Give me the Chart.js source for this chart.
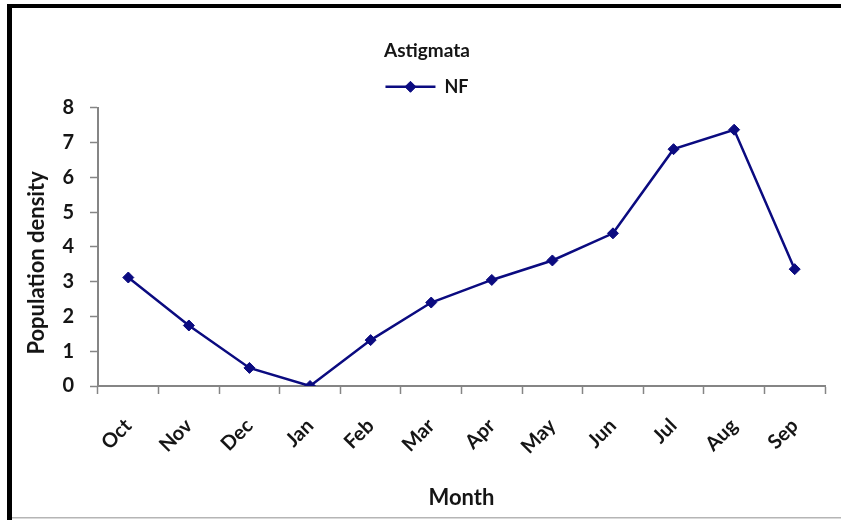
<!DOCTYPE html>
<html>
<head>
<meta charset="utf-8">
<title>Astigmata</title>
<script src="https://cdn.jsdelivr.net/npm/chart.js@4/dist/chart.umd.min.js"></script>
<style>
  html, body { margin: 0; padding: 0; background: #ffffff; }
  #wrap { width: 841px; height: 520px; position: relative; }
</style>
</head>
<body>
<div id="wrap"><canvas id="chart" width="841" height="520"></canvas></div>
<script>
// Monthly population density of Astigmata (NF)
const months = ['Oct', 'Nov', 'Dec', 'Jan', 'Feb', 'Mar', 'Apr', 'May', 'Jun', 'Jul', 'Aug', 'Sep'];
const nfDensity = [3.12, 1.74, 0.52, 0, 1.32, 2.40, 3.05, 3.61, 4.39, 6.81, 7.37, 3.36];
const yTickValues = [0, 1, 2, 3, 4, 5, 6, 7, 8];

const seriesName = 'NF';
const chartTitle = 'Astigmata';
const xTitle = 'Month';
// trailing spaces nudge the rotated title slightly toward the bottom of the axis
const yTitle = 'Population density      ';

const navy = '#0b0b80';
const axisGrey = '#858585';
const textColor = '#151515';
const fontFamily = 'Lato, "Open Sans", "Liberation Sans", sans-serif';

// White background plus the black frame on the left and top edges, grey rule at the bottom
const framePlugin = {
  id: 'frame',
  beforeDraw(chart) {
    const ctx = chart.ctx;
    ctx.save();
    ctx.fillStyle = '#ffffff';
    ctx.fillRect(0, 0, chart.width, chart.height);
    ctx.fillStyle = '#000000';
    ctx.fillRect(7, 4, chart.width - 7, 4);
    ctx.fillRect(7, 4, 5, chart.height - 4);
    ctx.fillStyle = '#b5b5b5';
    ctx.fillRect(12, 517, chart.width - 12, 1.5);
    ctx.restore();
  }
};

// Legend swatch: a line with a diamond marker in the middle
const legendMarkerPlugin = {
  id: 'legendMarker',
  afterDraw(chart) {
    const legend = chart.legend;
    if (!legend || !legend.legendHitBoxes) return;
    const ctx = chart.ctx;
    const boxW = legend.options.labels.boxWidth;
    legend.legendHitBoxes.forEach((hb) => {
      const cy = hb.top + hb.height / 2;
      ctx.save();
      ctx.strokeStyle = navy;
      ctx.lineWidth = 2.5;
      ctx.beginPath();
      ctx.moveTo(hb.left, cy);
      ctx.lineTo(hb.left + boxW, cy);
      ctx.stroke();
      ctx.fillStyle = navy;
      ctx.strokeStyle = navy;
      ctx.lineWidth = 1;
      Chart.helpers.drawPoint(ctx, { pointStyle: 'rectRot', radius: 5.5, borderWidth: 1, rotation: 0 }, hb.left + boxW / 2, cy);
      ctx.restore();
    });
  }
};

new Chart(document.getElementById('chart'), {
  type: 'line',
  data: {
    labels: months,
    datasets: [{
      label: seriesName,
      data: nfDensity,
      borderColor: navy,
      backgroundColor: navy,
      borderWidth: 2.5,
      pointStyle: 'rectRot',
      pointRadius: 5.5,
      pointBorderWidth: 1,
      pointBackgroundColor: navy,
      pointBorderColor: navy,
      tension: 0,
      fill: false
    }]
  },
  options: {
    responsive: false,
    animation: false,
    devicePixelRatio: 1,
    layout: { padding: { left: 29, right: 16, top: 8, bottom: 4 } },
    plugins: {
      title: {
        display: true,
        text: chartTitle,
        color: textColor,
        font: { family: fontFamily, size: 19, weight: 'bold', lineHeight: 1.2 },
        padding: { top: 31, bottom: 2 }
      },
      legend: {
        display: true,
        position: 'top',
        labels: {
          boxWidth: 50,
          boxHeight: 22,
          padding: 12,
          color: textColor,
          font: { family: fontFamily, size: 18, weight: 'bold' },
          generateLabels(chart) {
            return chart.data.datasets.map((ds, i) => ({
              text: ds.label,
              fillStyle: 'rgba(0,0,0,0)',
              strokeStyle: 'rgba(0,0,0,0)',
              lineWidth: 0,
              hidden: false,
              datasetIndex: i,
              fontColor: textColor
            }));
          }
        }
      },
      tooltip: { enabled: false }
    },
    scales: {
      x: {
        type: 'category',
        offset: true,
        afterFit(scale) { scale.height = 130; },
        grid: {
          display: true,
          offset: true,
          drawOnChartArea: false,
          drawTicks: true,
          tickLength: 8,
          tickColor: axisGrey,
          tickWidth: 1.5
        },
        border: { display: true, color: axisGrey, width: 2 },
        ticks: {
          maxRotation: 45,
          minRotation: 45,
          autoSkip: false,
          padding: 20,
          color: textColor,
          font: { family: fontFamily, size: 20, weight: 'bold' }
        },
        title: {
          display: true,
          text: xTitle,
          color: textColor,
          font: { family: fontFamily, size: 22, weight: 'bold', lineHeight: 1.2 },
          padding: { top: 0, bottom: 5 }
        }
      },
      y: {
        min: 0,
        max: 8,
        afterFit(scale) { scale.width = 69; },
        afterBuildTicks(scale) { scale.ticks = yTickValues.map(v => ({ value: v })); },
        grid: {
          display: true,
          drawOnChartArea: false,
          drawTicks: true,
          tickLength: 8,
          tickColor: axisGrey,
          tickWidth: 1.5
        },
        border: { display: true, color: axisGrey, width: 2 },
        ticks: {
          padding: 16,
          color: textColor,
          font: { family: fontFamily, size: 20, weight: 'bold' }
        },
        title: {
          display: true,
          text: yTitle,
          color: textColor,
          font: { family: fontFamily, size: 22, weight: 'bold', lineHeight: 0.75 },
          padding: { top: 0, bottom: 0 }
        }
      }
    }
  },
  plugins: [framePlugin, legendMarkerPlugin]
});
</script>
</body>
</html>
